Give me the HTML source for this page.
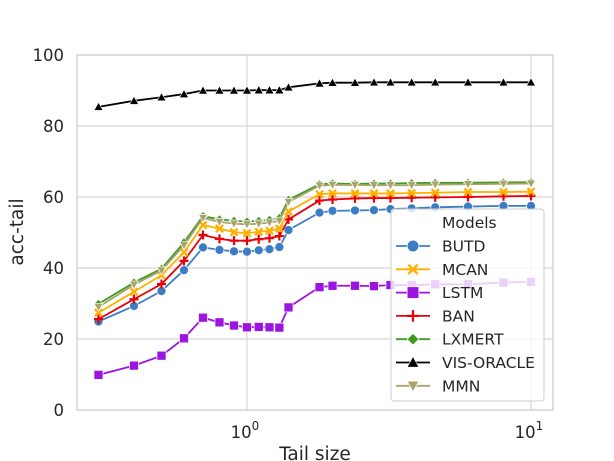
<!DOCTYPE html>
<html><head><meta charset="utf-8"><style>
body{margin:0;background:#fff;}
svg{display:block;font-family:"DejaVu Sans","Liberation Sans",sans-serif;}
</style></head><body>
<svg id="chart" width="614" height="461" viewBox="0 0 614 461"></svg>
<script>
const tailSizes=[0.3,0.4,0.5,0.6,0.7,0.8,0.9,1.0,1.1,1.2,1.3,1.4,1.8,2.0,2.4,2.8,3.2,3.8,4.6,6.0,8.0,10];
const butd=[24.9,29.3,33.5,39.4,45.8,45.1,44.7,44.6,45.0,45.3,45.9,50.7,55.6,56.1,56.2,56.3,56.6,56.8,57.1,57.3,57.5,57.5];
const mcan=[27.4,33.3,38.0,44.4,52.1,51.1,50.1,49.8,50.2,50.5,51.1,55.9,60.8,61.0,61.0,61.0,61.0,61.1,61.2,61.4,61.4,61.5];
const lstm=[9.9,12.5,15.3,20.2,26.0,24.7,23.8,23.3,23.4,23.3,23.2,28.9,34.6,35.0,35.0,34.9,35.2,35.2,35.4,35.4,35.9,36.1];
const ban=[25.6,31.2,35.5,42.0,49.3,48.2,47.7,47.7,48.1,48.4,49.0,53.7,59.0,59.3,59.6,59.7,59.7,59.8,59.9,60.0,60.2,60.3];
const lxmert=[29.9,35.9,39.8,47.2,54.6,53.7,53.3,53.1,53.3,53.6,54.1,59.2,63.6,63.8,63.7,63.8,63.8,63.9,64.0,64.0,64.1,64.2];
const visOracle=[85.4,87.1,88.1,89.0,90.0,90.0,90.0,90.0,90.1,90.1,90.1,90.9,92.0,92.2,92.2,92.3,92.3,92.3,92.3,92.3,92.3,92.3];
const mmn=[29.0,35.3,39.3,46.4,54.1,53.0,52.5,52.3,52.5,52.8,53.3,58.6,63.2,63.4,63.4,63.3,63.3,63.3,63.5,63.6,63.7,63.8];
const yTicks=[0,20,40,60,80,100];
const seriesNames=["BUTD","MCAN","LSTM","BAN","LXMERT","VIS-ORACLE","MMN"];

const NS="http://www.w3.org/2000/svg";
const svg=document.getElementById('chart');
const L=77,R=553,T=55,B=410;
function xs(v){return 247+Math.log10(v)*284;}
function ys(v){return B-(v/100)*(B-T);}
function mk(tag,attrs,parent){const e=document.createElementNS(NS,tag);for(const k in attrs)e.setAttribute(k,attrs[k]);(parent||svg).appendChild(e);return e;}

yTicks.forEach(t=>{
  const g=mk('line',{x1:L,x2:R,y1:ys(t),y2:ys(t),stroke:'#d5d5d5','stroke-width':1.2});
  
  
  const tx=mk('text',{x:L-13,y:ys(t)+6,'text-anchor':'end','font-size':16.5,fill:'#262626'});
  tx.textContent=t;
  
  
});
[1,10].forEach((v,i)=>{
  const g=mk('line',{x1:xs(v),x2:xs(v),y1:T,y2:B,stroke:'#d5d5d5','stroke-width':1.2});
  
  
  const tx=mk('text',{x:xs(v)-2,y:438,'text-anchor':'middle','font-size':16.5,fill:'#262626'});
  tx.textContent='10';
  const sup=mk('tspan',{dy:-8,'font-size':12},tx);sup.textContent=String(i);
  
  
});
const frame=mk('rect',{x:L,y:T,width:R-L,height:B-T,fill:'none',stroke:'#d0d0d0','stroke-width':1.3});



const xl=mk('text',{x:315,y:460,'text-anchor':'middle','font-size':18.5,fill:'#262626'});
xl.textContent='Tail size';


const yl=mk('text',{x:23,y:232,'text-anchor':'middle','font-size':18.5,fill:'#262626',transform:'rotate(-90 23 232)'});
yl.textContent='acc-tail';



function marker(type,x,y,color,parent,sc){
  let e;
  const s=4.5*(sc||1);
  if(type==='o')e=mk('circle',{cx:x,cy:y,r:s,fill:color,stroke:'#fff','stroke-width':0.7},parent);
  else if(type==='s')e=mk('rect',{x:x-s,y:y-s,width:2*s,height:2*s,fill:color,stroke:'#fff','stroke-width':0.7},parent);
  else if(type==='^')e=mk('polygon',{points:`${x},${y-s} ${x+s},${y+s*0.8} ${x-s},${y+s*0.8}`,fill:color,stroke:'#fff','stroke-width':0.6},parent);
  else if(type==='v')e=mk('polygon',{points:`${x},${y+s} ${x+s},${y-s*0.8} ${x-s},${y-s*0.8}`,fill:color,stroke:'#fff','stroke-width':0.7},parent);
  else if(type==='D')e=mk('polygon',{points:`${x},${y-s} ${x+s},${y} ${x},${y+s} ${x-s},${y}`,fill:color,stroke:'#fff','stroke-width':0.7},parent);
  else if(type==='+')e=mk('path',{d:`M${x-s} ${y}H${x+s}M${x} ${y-s}V${y+s}`,stroke:color,'stroke-width':2.2,fill:'none'},parent);
  else if(type==='x')e=mk('path',{d:`M${x-s*0.8} ${y-s*0.8}L${x+s*0.8} ${y+s*0.8}M${x-s*0.8} ${y+s*0.8}L${x+s*0.8} ${y-s*0.8}`,stroke:color,'stroke-width':2.4,fill:'none'},parent);
  return e;
}

const series=[
 {name:'lstm',vals:lstm,color:'#9b14e0',m:'s'},
 {name:'butd',vals:butd,color:'#3b7dc4',m:'o'},
 {name:'ban',vals:ban,color:'#e8000b',m:'+'},
 {name:'mcan',vals:mcan,color:'#ffb000',m:'x'},
 {name:'lxmert',vals:lxmert,color:'#3f9b1f',m:'D'},
 {name:'mmn',vals:mmn,color:'#a8a46c',m:'v'},
 {name:'vis-oracle',vals:visOracle,color:'#000000',m:'^'}
];
series.forEach(s=>{
  const g=mk('g',{});
  
  
  const pts=s.vals.map((v,i)=>xs(tailSizes[i])+','+ys(v)).join(' ');
  const pl=mk('polyline',{points:pts,fill:'none',stroke:s.color,'stroke-width':1.8},g);
  
  
  s.vals.forEach((v,i)=>{
    const m=marker(s.m,xs(tailSizes[i]),ys(v),s.color,g);
    
    
  });
});

const lg=mk('g',{});


mk('rect',{x:391,y:209,width:153,height:192,rx:3,fill:'#fff','fill-opacity':0.8,stroke:'#cccccc','stroke-width':1},lg);
const lt=mk('text',{x:442,y:228,'font-size':15.5,fill:'#262626'},lg);
lt.textContent='Models';


const legMap={BUTD:['#3b7dc4','o'],MCAN:['#ffb000','x'],LSTM:['#9b14e0','s'],BAN:['#e8000b','+'],LXMERT:['#3f9b1f','D'],'VIS-ORACLE':['#000000','^'],MMN:['#a8a46c','v']};
seriesNames.forEach((n,i)=>{
  const y=246+i*23.3;
  const eg=mk('g',{},lg);
  
  
  const c=legMap[n];
  mk('line',{x1:396,x2:430,y1:y,y2:y,stroke:c[0],'stroke-width':1.8},eg);
  marker(c[1],413,y,c[0],eg,1.3);
  const t=mk('text',{x:442,y:y+5.5,'font-size':15.5,fill:'#262626'},eg);
  t.textContent=n;
});
</script>
</body></html>
